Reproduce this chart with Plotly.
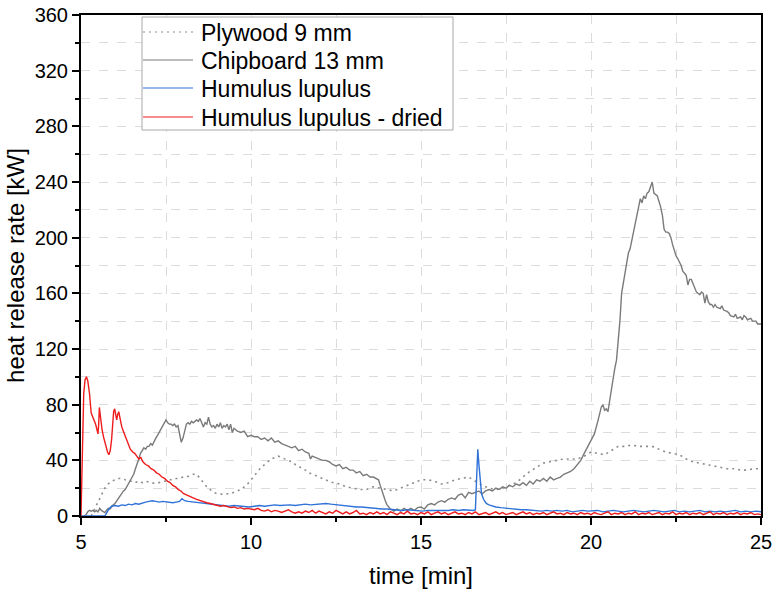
import plotly.graph_objects as go

# Heat release rate curves: (time [min], HRR [kW]) samples per material
plywood_9mm = [
    (5.3, 0), (5.4, 5), (5.5, 11), (5.6, 16), (5.7, 20), (5.8, 23), (5.9, 25), (6.0, 26),
    (6.1, 27), (6.2, 27), (6.3, 26), (6.4, 25), (6.5, 25), (6.6, 24), (6.7, 25), (6.8, 24),
    (6.9, 25), (7.0, 24), (7.1, 23.5), (7.2, 24), (7.3, 24), (7.4, 25), (7.5, 25), (7.6, 26),
    (7.7, 26), (7.8, 27), (7.9, 27), (8.0, 28), (8.1, 28), (8.2, 29), (8.3, 30), (8.4, 30),
    (8.5, 27), (8.6, 24), (8.7, 21), (8.8, 19), (8.9, 17), (9.0, 16), (9.1, 15.5), (9.2, 15.5),
    (9.3, 16), (9.4, 16), (9.5, 17), (9.6, 18), (9.7, 19), (9.8, 21), (9.9, 23), (10.0, 26),
    (10.1, 29), (10.2, 32), (10.3, 35), (10.4, 37), (10.5, 39), (10.6, 41), (10.7, 42),
    (10.8, 43), (10.9, 42), (11.0, 41), (11.1, 40), (11.2, 39), (11.3, 37), (11.4, 36),
    (11.5, 34), (11.6, 33), (11.7, 31), (11.8, 30), (11.9, 29), (12.0, 28), (12.2, 26),
    (12.4, 24), (12.6, 23), (12.8, 21), (13.0, 20), (13.2, 19), (13.4, 19), (13.6, 21),
    (13.8, 20), (14.0, 19), (14.2, 18), (14.4, 20), (14.6, 22), (14.8, 24), (15.0, 26),
    (15.2, 26), (15.4, 25), (15.6, 23), (15.8, 24), (16.0, 26), (16.2, 27), (16.4, 28),
    (16.6, 25), (16.8, 22), (17.0, 20), (17.2, 19), (17.4, 20), (17.6, 22), (17.8, 24),
    (18.0, 28), (18.2, 32), (18.4, 35), (18.6, 38), (18.8, 39), (19.0, 40), (19.2, 41),
    (19.4, 41), (19.6, 41), (19.8, 43), (20.0, 46), (20.2, 45), (20.4, 44), (20.6, 47),
    (20.8, 50), (21.0, 50), (21.2, 51), (21.4, 50), (21.6, 50), (21.8, 50), (22.0, 48),
    (22.2, 46), (22.4, 45), (22.6, 44), (22.8, 41), (23.0, 39), (23.2, 38), (23.4, 37),
    (23.6, 36), (23.8, 35), (24.0, 34), (24.2, 34), (24.4, 33), (24.6, 33), (24.8, 34),
    (25.0, 34),
]

chipboard_13mm = [
    (5.1, 0), (5.15, 1), (5.2, 3), (5.25, 4), (5.3, 3.5), (5.35, 4), (5.4, 3), (5.45, 4),
    (5.5, 3), (5.55, 5.5), (5.6, 4), (5.65, 3), (5.7, 2.5), (5.75, 4), (5.8, 5.5), (5.85, 5),
    (5.9, 7), (5.95, 8), (6.0, 9), (6.05, 11), (6.1, 13), (6.15, 14), (6.2, 16), (6.25, 18),
    (6.3, 19), (6.35, 21), (6.4, 24), (6.45, 26), (6.5, 28), (6.55, 30), (6.6, 34), (6.65, 37),
    (6.7, 41), (6.75, 45), (6.8, 47), (6.85, 49), (6.9, 48), (6.95, 50), (7.0, 50), (7.05, 52),
    (7.1, 51), (7.15, 54), (7.2, 56), (7.25, 58), (7.3, 60), (7.35, 63), (7.4, 65), (7.45, 67),
    (7.5, 69), (7.55, 67), (7.6, 66), (7.65, 66), (7.7, 65), (7.75, 66), (7.8, 64), (7.85, 65),
    (7.9, 60), (7.95, 53), (8.0, 56), (8.05, 62), (8.1, 66), (8.15, 67), (8.2, 66), (8.25, 68),
    (8.3, 67), (8.35, 68), (8.4, 69), (8.45, 68), (8.5, 70), (8.55, 67), (8.6, 64), (8.65, 67),
    (8.7, 66), (8.75, 71), (8.8, 66), (8.85, 64), (8.9, 65), (8.95, 63), (9.0, 66), (9.05, 64),
    (9.1, 67), (9.15, 63), (9.2, 65), (9.25, 64), (9.3, 66), (9.35, 62), (9.4, 66), (9.45, 60),
    (9.5, 63), (9.55, 62), (9.6, 61), (9.7, 60), (9.8, 61), (9.9, 57), (10.0, 58), (10.1, 57),
    (10.2, 57), (10.3, 55), (10.4, 56), (10.5, 54), (10.6, 56), (10.7, 53), (10.8, 54),
    (10.9, 52), (11.0, 51), (11.1, 50), (11.2, 49), (11.3, 50), (11.4, 47), (11.5, 48),
    (11.6, 46), (11.7, 45), (11.75, 41), (11.8, 43), (11.9, 42), (12.0, 41), (12.1, 40),
    (12.2, 40), (12.3, 39), (12.4, 37), (12.5, 36), (12.6, 37), (12.7, 34), (12.8, 35),
    (12.9, 33), (13.0, 33), (13.1, 31), (13.2, 32), (13.3, 29), (13.4, 30), (13.5, 28),
    (13.6, 28), (13.7, 27), (13.75, 26), (13.8, 22), (13.85, 18), (13.9, 14), (13.95, 11),
    (14.0, 8), (14.05, 6), (14.1, 5), (14.2, 3.5), (14.3, 5), (14.4, 3.5), (14.5, 5.5),
    (14.6, 4), (14.7, 5.5), (14.8, 4), (14.9, 6), (15.0, 6.5), (15.1, 5), (15.2, 8), (15.3, 9),
    (15.4, 8), (15.5, 10), (15.6, 11), (15.7, 10), (15.8, 12), (15.9, 13), (16.0, 12),
    (16.1, 15), (16.2, 16), (16.3, 13), (16.4, 17), (16.5, 16), (16.6, 17), (16.7, 18),
    (16.8, 16), (16.9, 18), (17.0, 19), (17.1, 18), (17.2, 20), (17.3, 19), (17.4, 21),
    (17.5, 20), (17.6, 22), (17.7, 21), (17.8, 23), (17.9, 22), (18.0, 24), (18.1, 22),
    (18.2, 25), (18.3, 23), (18.4, 26), (18.5, 25), (18.6, 27), (18.7, 25), (18.8, 28),
    (18.9, 26), (19.0, 27), (19.1, 28), (19.2, 30), (19.3, 31), (19.4, 32), (19.5, 34),
    (19.6, 37), (19.7, 40), (19.8, 45), (19.9, 50), (20.0, 54), (20.1, 59), (20.2, 68),
    (20.3, 78), (20.35, 80), (20.4, 76), (20.45, 77), (20.5, 75), (20.55, 83), (20.6, 92),
    (20.65, 100), (20.7, 106), (20.75, 112), (20.8, 125), (20.85, 140), (20.9, 160),
    (20.95, 167), (21.0, 173), (21.05, 180), (21.1, 189), (21.15, 192), (21.2, 198),
    (21.25, 204), (21.3, 210), (21.35, 216), (21.4, 224), (21.45, 228), (21.5, 225),
    (21.55, 230), (21.6, 228), (21.65, 232), (21.7, 233), (21.75, 236), (21.8, 240),
    (21.85, 232), (21.9, 231), (21.95, 230), (22.0, 226), (22.05, 222), (22.1, 216),
    (22.15, 206), (22.2, 204), (22.25, 204), (22.3, 203), (22.35, 200), (22.4, 195),
    (22.45, 190), (22.5, 187), (22.55, 185), (22.6, 183), (22.65, 180), (22.7, 176),
    (22.75, 174), (22.8, 173), (22.85, 166), (22.9, 170), (22.95, 170), (23.0, 167),
    (23.05, 163), (23.1, 161), (23.2, 159), (23.25, 161), (23.3, 160), (23.35, 153),
    (23.4, 159), (23.45, 154), (23.5, 152), (23.55, 152), (23.6, 150), (23.65, 152),
    (23.7, 150), (23.8, 149), (23.85, 151), (23.9, 148), (24.0, 147), (24.05, 146),
    (24.1, 144), (24.2, 143), (24.25, 145), (24.3, 142), (24.4, 143), (24.45, 141),
    (24.5, 144), (24.55, 143), (24.6, 141), (24.7, 142), (24.75, 140), (24.85, 140),
    (24.9, 138), (25.0, 138),
]

humulus = [
    (5.0, 0), (5.7, 0), (5.75, 2), (5.82, 5), (5.9, 7), (6.0, 7.5), (6.1, 7), (6.2, 8),
    (6.3, 7.5), (6.4, 8.5), (6.5, 8), (6.6, 9), (6.7, 8.5), (6.8, 9.5), (6.9, 10), (7.0, 10.5),
    (7.1, 11), (7.2, 10.5), (7.3, 10), (7.4, 10.5), (7.5, 10), (7.6, 10), (7.7, 9.5), (7.8, 10),
    (7.9, 10.5), (7.97, 12.5), (8.05, 11), (8.15, 10.5), (8.3, 10), (8.45, 9.5), (8.6, 9),
    (8.75, 8.5), (8.9, 8), (9.05, 7.5), (9.2, 7.5), (9.35, 7), (9.5, 7.5), (9.65, 7), (9.8, 7),
    (9.95, 6.5), (10.1, 7), (10.25, 7.5), (10.4, 7), (10.55, 7.5), (10.7, 8), (10.85, 7.5),
    (11.0, 8), (11.15, 8), (11.3, 7.5), (11.45, 8), (11.6, 8.5), (11.75, 8), (11.9, 8.5),
    (12.05, 8.5), (12.2, 9), (12.35, 8.5), (12.5, 8), (12.65, 8), (12.8, 7.5), (12.95, 7),
    (13.1, 6.5), (13.25, 6.5), (13.4, 6), (13.55, 5.5), (13.7, 5.5), (13.85, 5), (14.0, 5),
    (14.15, 4.5), (14.3, 4.5), (14.45, 4), (14.6, 4.5), (14.75, 4), (14.9, 4), (15.05, 3.5),
    (15.2, 4), (15.35, 4), (15.5, 3.5), (15.65, 4), (15.8, 4), (15.95, 4.5), (16.1, 4),
    (16.25, 4.5), (16.4, 4), (16.55, 4), (16.6, 4.5), (16.63, 25), (16.67, 48), (16.7, 38),
    (16.74, 24), (16.78, 16), (16.84, 12), (16.92, 9), (17.0, 8), (17.1, 7), (17.2, 6.5),
    (17.35, 6), (17.5, 5.5), (17.65, 5), (17.8, 5), (17.95, 4.5), (18.1, 4.5), (18.25, 4),
    (18.4, 4), (18.55, 3.5), (18.7, 4), (18.85, 3.5), (19.0, 4), (19.15, 3.5), (19.3, 4),
    (19.45, 3), (19.6, 3.5), (19.75, 4), (19.9, 3.5), (20.05, 3.5), (20.2, 4), (20.35, 3),
    (20.5, 3.5), (20.65, 4), (20.8, 3.5), (20.95, 3), (21.1, 3.5), (21.25, 4), (21.4, 3.5),
    (21.55, 3), (21.7, 3.5), (21.85, 4), (22.0, 3.5), (22.15, 3), (22.3, 3.5), (22.45, 4),
    (22.6, 3), (22.75, 3.5), (22.9, 3), (23.05, 3.5), (23.2, 4), (23.35, 3), (23.5, 3.5),
    (23.65, 3), (23.8, 3.5), (23.95, 3), (24.1, 3.5), (24.25, 4), (24.4, 3), (24.55, 3.5),
    (24.7, 3), (24.85, 3.5), (25.0, 3),
]

humulus_dried = [
    (5.0, 0), (5.04, 40), (5.08, 88), (5.12, 98), (5.16, 100), (5.2, 97), (5.25, 88),
    (5.3, 74), (5.35, 71), (5.39, 69), (5.43, 66), (5.47, 62), (5.5, 59), (5.52, 66),
    (5.54, 78), (5.56, 74), (5.59, 66), (5.62, 62), (5.66, 57), (5.7, 53), (5.74, 49),
    (5.78, 46), (5.82, 44), (5.86, 47), (5.9, 55), (5.93, 66), (5.96, 75), (5.99, 77),
    (6.02, 74), (6.05, 69), (6.08, 73), (6.11, 75), (6.15, 70), (6.2, 64), (6.26, 60),
    (6.32, 56), (6.38, 52), (6.45, 48), (6.52, 46), (6.58, 45), (6.64, 43), (6.7, 41),
    (6.76, 42), (6.82, 39), (6.9, 37), (6.98, 36), (7.06, 34), (7.14, 33), (7.22, 31),
    (7.3, 30), (7.38, 28), (7.46, 27), (7.54, 25), (7.62, 24), (7.7, 22), (7.78, 21),
    (7.86, 19), (7.94, 18), (8.02, 16), (8.1, 15), (8.2, 14), (8.3, 13), (8.4, 12), (8.5, 11),
    (8.6, 10), (8.7, 9.5), (8.8, 9), (8.9, 8.5), (9.0, 8), (9.1, 7), (9.2, 7.5), (9.3, 6.5),
    (9.4, 6), (9.5, 6.5), (9.6, 5.5), (9.7, 6), (9.8, 5), (9.9, 5.5), (10.0, 5), (10.1, 4.5),
    (10.2, 5.5), (10.3, 4), (10.4, 3.5), (10.5, 4.5), (10.6, 3), (10.7, 4), (10.8, 3.5),
    (10.9, 2.5), (11.0, 3.5), (11.1, 4.5), (11.2, 3), (11.3, 2), (11.4, 3), (11.5, 2),
    (11.6, 3.5), (11.7, 2.5), (11.8, 4), (11.9, 2), (12.0, 3.5), (12.1, 2.5), (12.2, 1.5),
    (12.3, 3), (12.4, 2), (12.5, 4), (12.6, 2.5), (12.7, 1.5), (12.8, 3), (12.9, 1.5),
    (13.0, 2.5), (13.1, 4), (13.2, 1.5), (13.3, 2), (13.4, 1), (13.5, 2.5), (13.6, 1.5),
    (13.7, 3), (13.8, 1.5), (13.9, 2.5), (14.0, 1), (14.1, 3), (14.2, 2), (14.3, 1),
    (14.4, 2.5), (14.5, 1.5), (14.6, 3.5), (14.7, 1.5), (14.8, 2), (14.9, 1), (15.0, 2.5),
    (15.1, 1.5), (15.2, 3), (15.3, 1), (15.4, 2), (15.5, 3), (15.6, 1.5), (15.7, 2.5),
    (15.8, 1), (15.9, 2), (16.0, 3), (16.1, 1.5), (16.2, 2), (16.3, 1), (16.4, 2.5),
    (16.5, 1.5), (16.6, 3), (16.7, 1), (16.8, 2), (16.9, 2.5), (17.0, 1), (17.1, 2), (17.2, 3),
    (17.3, 1.5), (17.4, 2.5), (17.5, 1), (17.6, 2), (17.7, 2.5), (17.8, 1), (17.9, 2),
    (18.0, 3), (18.1, 1.5), (18.2, 2.5), (18.3, 1), (18.4, 2), (18.5, 1.5), (18.6, 2.5),
    (18.7, 1), (18.8, 2), (18.9, 3), (19.0, 1.5), (19.1, 2), (19.2, 1), (19.3, 2.5),
    (19.4, 1.5), (19.5, 2), (19.6, 1), (19.7, 2.5), (19.8, 1.5), (19.9, 2), (20.0, 1),
    (20.1, 2.5), (20.2, 1.5), (20.3, 1), (20.4, 2), (20.5, 3), (20.6, 1), (20.7, 2),
    (20.8, 1.5), (20.9, 2.5), (21.0, 1), (21.1, 2), (21.2, 1.5), (21.3, 3), (21.4, 1),
    (21.5, 2), (21.6, 1.5), (21.7, 2.5), (21.8, 1), (21.9, 2), (22.0, 2.5), (22.1, 1),
    (22.2, 2), (22.3, 1.5), (22.4, 3), (22.5, 1), (22.6, 2), (22.7, 1.5), (22.8, 2.5),
    (22.9, 1), (23.0, 2), (23.1, 1.5), (23.2, 2.5), (23.3, 1), (23.4, 2), (23.5, 3), (23.6, 1),
    (23.7, 2), (23.8, 1.5), (23.9, 2.5), (24.0, 1), (24.1, 2), (24.2, 1.5), (24.3, 2.5),
    (24.4, 1), (24.5, 2), (24.6, 1.5), (24.7, 2.5), (24.8, 1), (24.9, 1.5), (25.0, 1),
]

series_names = ["Plywood 9 mm", "Chipboard 13 mm", "Humulus lupulus", "Humulus lupulus - dried"]
x_ticks = [5, 10, 15, 20, 25]
y_ticks = [0, 40, 80, 120, 160, 200, 240, 280, 320, 360]

FONT = "Liberation Sans, Arial, sans-serif"
W, H = 773, 589
M = dict(l=81, r=12, t=15, b=73)

styles = [
    dict(color="#8c8c8c", width=1.6, dash="2px,4px"),
    dict(color="#7a7a7a", width=1.4),
    dict(color="#2f72d8", width=1.4),
    dict(color="#ee1c1c", width=1.4),
]

fig = go.Figure()
for name, data, line in zip(series_names,
                            [plywood_9mm, chipboard_13mm, humulus, humulus_dried],
                            styles):
    fig.add_trace(go.Scatter(
        x=[p[0] for p in data], y=[p[1] for p in data],
        mode="lines", name=name, line=line, showlegend=False,
    ))

# Legend box drawn in paper coordinates (pixel helpers relative to the plot area)
pw = W - M["l"] - M["r"]
ph = H - M["t"] - M["b"]


def px_x(px):
    return (px - M["l"]) / pw


def px_y(py):
    return (H - M["b"] - py) / ph


shapes = [dict(type="rect", xref="paper", yref="paper", layer="above",
               x0=px_x(142), x1=px_x(453), y0=px_y(130), y1=px_y(17),
               line=dict(color="#a8a8a8", width=1), fillcolor="white")]
annotations = []
row_y = [32, 60, 88, 117]
for name, line, ry in zip(series_names, styles, row_y):
    shapes.append(dict(type="line", xref="paper", yref="paper", layer="above",
                       x0=px_x(143), x1=px_x(193), y0=px_y(ry), y1=px_y(ry),
                       line=dict(color=line["color"], width=1.2,
                                 dash=line.get("dash", "solid"))))
    annotations.append(dict(text=name, xref="paper", yref="paper", showarrow=False,
                            x=px_x(199), y=px_y(ry + 1), xanchor="left", yanchor="middle",
                            font=dict(family=FONT, size=23, color="black")))

grid = dict(showgrid=True, gridcolor="#dcdcdc", gridwidth=1, griddash="dash")

fig.update_xaxes(
    range=[5, 25], tickvals=x_ticks, ticktext=[str(v) for v in x_ticks],
    showline=True, linecolor="black", linewidth=2, mirror=True, automargin=False,
    ticks="outside", ticklen=7, tickwidth=2, tickcolor="black",
    tickfont=dict(family=FONT, size=20, color="black"),
    title=dict(text="time [min]", font=dict(family=FONT, size=24, color="black"), standoff=15),
    zeroline=False,
    minor=dict(dtick=2.5, tick0=5, ticks="outside", ticklen=4, tickwidth=2,
               tickcolor="black", **grid),
    **grid,
)
fig.update_yaxes(
    range=[0, 360], tickvals=y_ticks, ticktext=[str(v) for v in y_ticks],
    showline=True, linecolor="black", linewidth=2, mirror=True, automargin=False,
    ticks="outside", ticklen=7, tickwidth=2, tickcolor="black",
    tickfont=dict(family=FONT, size=20, color="black"),
    title=dict(text="heat release rate [kW]", font=dict(family=FONT, size=24, color="black"),
               standoff=3),
    zeroline=False,
    minor=dict(dtick=20, tick0=0, ticks="outside", ticklen=4, tickwidth=2,
               tickcolor="black", **grid),
    **grid,
)

fig.update_layout(
    width=W, height=H,
    margin=M,
    paper_bgcolor="white", plot_bgcolor="white",
    font=dict(family=FONT, color="black"),
    showlegend=False,
    shapes=shapes,
    annotations=annotations,
)

fig.write_html("out.html")
